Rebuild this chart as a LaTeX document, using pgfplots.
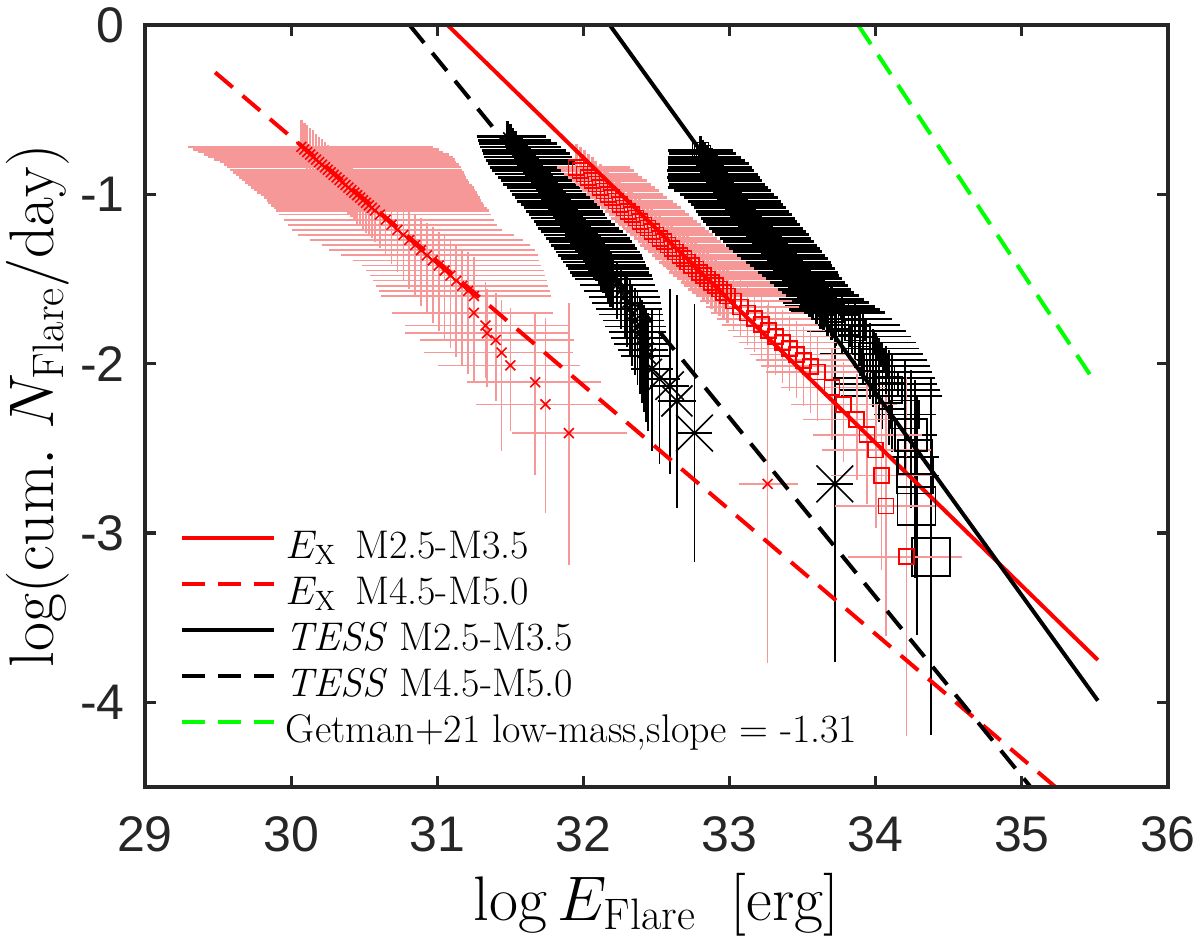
\RequirePackage{fix-cm}
\documentclass[border=0pt]{standalone}
\usepackage{fontspec}
\newfontfamily\tickfont{Liberation Sans}
\usepackage{pgfplots}
\usepackage{pgfplotstable}
\pgfplotsset{compat=1.18}
\definecolor{pinkbar}{RGB}{246,152,152}
\definecolor{axisgray}{RGB}{38,38,38}
\definecolor{mgreen}{RGB}{0,255,0}
\pgfplotsset{
  pinkerr/.style={/pgfplots/error bars/x dir=both, /pgfplots/error bars/x explicit,
    /pgfplots/error bars/y dir=both, /pgfplots/error bars/y explicit,
    /pgfplots/error bars/error bar style={line width=#1, pinkbar},
    /pgfplots/error bars/error mark options={line width=#1, pinkbar, mark size=5pt}},
  blackerr/.style={/pgfplots/error bars/x dir=both, /pgfplots/error bars/x explicit,
    /pgfplots/error bars/y dir=both, /pgfplots/error bars/y explicit,
    /pgfplots/error bars/error bar style={line width=#1, black},
    /pgfplots/error bars/error mark options={line width=#1, black, mark size=4.5pt}},
  sizedmarks/.style={scatter, point meta=y,
    scatter/use mapped color={draw=black, fill=black},
    visualization depends on={\thisrow{ms}\as\msize},
    scatter/@pre marker code/.append style={/tikz/mark size=\msize}},
}

% X-ray, M4.5-M5.0 (red x, pink bars)
\pgfplotstableread{
x y xm xp ym yp
30.070 -0.720 0.71 0.83 0.05 0.10
30.090 -0.735 0.69 0.85 0.05 0.10
30.110 -0.750 0.68 0.86 0.05 0.10
30.130 -0.765 0.66 0.88 0.06 0.10
30.150 -0.780 0.65 0.89 0.06 0.10
30.171 -0.795 0.63 0.88 0.06 0.09
30.191 -0.810 0.61 0.87 0.06 0.09
30.211 -0.825 0.60 0.87 0.07 0.09
30.231 -0.840 0.60 0.86 0.07 0.09
30.251 -0.855 0.60 0.85 0.07 0.09
30.271 -0.870 0.60 0.84 0.08 0.08
30.291 -0.885 0.60 0.83 0.08 0.08
30.311 -0.900 0.60 0.82 0.08 0.08
30.331 -0.915 0.60 0.81 0.09 0.08
30.351 -0.930 0.60 0.80 0.09 0.08
30.372 -0.945 0.60 0.80 0.09 0.08
30.392 -0.960 0.60 0.79 0.10 0.08
30.412 -0.975 0.60 0.78 0.10 0.08
30.432 -0.990 0.60 0.77 0.10 0.08
30.452 -1.005 0.59 0.76 0.11 0.08
30.472 -1.020 0.59 0.75 0.11 0.08
30.492 -1.035 0.59 0.74 0.11 0.08
30.512 -1.050 0.60 0.73 0.12 0.09
30.532 -1.065 0.60 0.72 0.12 0.09
30.552 -1.080 0.60 0.72 0.12 0.09
30.573 -1.095 0.61 0.71 0.13 0.09
30.607 -1.120 0.62 0.69 0.14 0.09
30.647 -1.150 0.63 0.67 0.15 0.10
30.687 -1.180 0.64 0.65 0.17 0.10
30.727 -1.210 0.65 0.65 0.19 0.11
30.768 -1.240 0.65 0.69 0.21 0.11
30.808 -1.270 0.61 0.71 0.23 0.12
30.848 -1.300 0.57 0.72 0.25 0.12
30.888 -1.330 0.56 0.71 0.27 0.13
30.929 -1.360 0.52 0.69 0.29 0.13
30.969 -1.390 0.48 0.66 0.31 0.14
31.010 -1.420 0.46 0.63 0.33 0.14
31.050 -1.450 0.47 0.61 0.35 0.15
31.090 -1.480 0.48 0.58 0.37 0.15
31.130 -1.510 0.50 0.55 0.39 0.16
31.171 -1.540 0.52 0.52 0.41 0.16
31.211 -1.570 0.54 0.49 0.43 0.17
31.251 -1.600 0.57 0.46 0.45 0.17
31.250 -1.700 0.49 0.47 0.22 0.18
31.330 -1.775 0.48 0.51 0.25 0.20
31.340 -1.820 0.49 0.50 0.26 0.20
31.400 -1.860 0.45 0.47 0.30 0.22
31.440 -1.935 0.46 0.42 0.52 0.25
31.500 -2.010 0.43 0.41 0.33 0.28
31.670 -2.110 0.40 0.38 0.49 0.35
31.740 -2.240 0.41 0.36 0.58 0.45
31.900 -2.410 0.32 0.33 0.72 0.71
33.260 -2.710 0.13 0.14 1.00 1.00
}\xrayB

% X-ray, M2.5-M3.5 (red squares, pink bars)
\pgfplotstableread{
x y xm xp ym yp
31.950 -0.84 0.06 0.30 0.04 0.08
31.977 -0.86 0.06 0.30 0.04 0.08
32.005 -0.88 0.07 0.30 0.04 0.08
32.032 -0.90 0.07 0.30 0.04 0.08
32.059 -0.92 0.07 0.31 0.05 0.08
32.086 -0.94 0.07 0.31 0.05 0.08
32.114 -0.96 0.07 0.31 0.05 0.08
32.141 -0.98 0.08 0.31 0.05 0.08
32.168 -1.00 0.08 0.31 0.05 0.08
32.196 -1.02 0.08 0.31 0.05 0.08
32.223 -1.04 0.08 0.32 0.06 0.08
32.250 -1.06 0.09 0.32 0.06 0.08
32.277 -1.08 0.09 0.32 0.06 0.09
32.305 -1.10 0.09 0.32 0.06 0.09
32.332 -1.12 0.09 0.32 0.06 0.09
32.359 -1.14 0.10 0.32 0.06 0.09
32.387 -1.16 0.10 0.32 0.07 0.09
32.414 -1.18 0.10 0.32 0.07 0.09
32.441 -1.20 0.10 0.32 0.07 0.09
32.468 -1.22 0.11 0.32 0.07 0.09
32.496 -1.24 0.11 0.32 0.07 0.09
32.523 -1.26 0.11 0.32 0.07 0.09
32.550 -1.28 0.11 0.32 0.08 0.09
32.578 -1.30 0.12 0.32 0.08 0.09
32.605 -1.32 0.12 0.32 0.08 0.09
32.632 -1.34 0.12 0.32 0.08 0.09
32.660 -1.36 0.12 0.32 0.08 0.10
32.687 -1.38 0.13 0.32 0.08 0.10
32.714 -1.40 0.13 0.33 0.09 0.10
32.741 -1.42 0.13 0.33 0.09 0.10
32.769 -1.44 0.13 0.33 0.09 0.10
32.796 -1.46 0.14 0.33 0.09 0.10
32.823 -1.48 0.14 0.33 0.09 0.10
32.851 -1.50 0.14 0.33 0.09 0.10
32.878 -1.52 0.14 0.33 0.10 0.10
32.905 -1.54 0.15 0.33 0.10 0.10
32.932 -1.56 0.15 0.33 0.10 0.10
32.960 -1.58 0.15 0.33 0.10 0.10
32.987 -1.60 0.15 0.33 0.10 0.10
33.028 -1.630 0.16 0.33 0.11 0.10
33.076 -1.665 0.17 0.33 0.12 0.11
33.124 -1.700 0.18 0.32 0.13 0.11
33.171 -1.735 0.19 0.32 0.14 0.11
33.219 -1.770 0.20 0.32 0.15 0.12
33.267 -1.805 0.21 0.32 0.16 0.12
33.315 -1.840 0.22 0.31 0.17 0.12
33.362 -1.875 0.23 0.31 0.18 0.13
33.410 -1.910 0.24 0.31 0.19 0.13
33.458 -1.945 0.25 0.31 0.20 0.14
33.506 -1.980 0.26 0.30 0.21 0.14
33.553 -2.015 0.27 0.30 0.22 0.15
33.601 -2.050 0.28 0.30 0.23 0.15
33.700 -2.140 0.28 0.30 0.25 0.17
33.780 -2.240 0.29 0.30 0.28 0.19
33.870 -2.330 0.30 0.30 0.30 0.21
33.940 -2.420 0.30 0.31 0.35 0.24
34.000 -2.510 0.30 0.31 0.40 0.30
34.040 -2.660 0.28 0.30 0.50 0.40
34.070 -2.840 0.28 0.30 0.71 0.60
34.210 -3.140 0.33 0.31 1.00 1.00
}\xrayA

% TESS, M4.5-M5.0 (black x)
\pgfplotstableread{
x y xm xp ym yp ms
31.480 -0.66 0.15 0.20 0.03 0.04 3
31.499 -0.68 0.16 0.22 0.03 0.04 3
31.518 -0.70 0.17 0.24 0.03 0.04 3
31.537 -0.72 0.18 0.25 0.03 0.04 3
31.556 -0.74 0.19 0.26 0.04 0.04 3
31.574 -0.76 0.20 0.27 0.04 0.05 3
31.593 -0.78 0.21 0.27 0.04 0.05 3
31.612 -0.80 0.22 0.27 0.04 0.05 3
31.631 -0.82 0.22 0.26 0.05 0.05 3
31.650 -0.84 0.23 0.25 0.05 0.05 3
31.667 -0.86 0.23 0.24 0.05 0.05 3
31.684 -0.88 0.23 0.23 0.05 0.05 3
31.700 -0.90 0.22 0.23 0.05 0.05 3
31.717 -0.92 0.22 0.22 0.06 0.05 3
31.734 -0.94 0.22 0.22 0.06 0.05 3
31.751 -0.96 0.21 0.21 0.06 0.06 3
31.768 -0.98 0.21 0.21 0.06 0.06 3
31.784 -1.00 0.21 0.21 0.06 0.06 3
31.801 -1.02 0.21 0.21 0.07 0.06 3
31.818 -1.04 0.21 0.20 0.07 0.06 3
31.835 -1.06 0.20 0.20 0.07 0.06 3
31.852 -1.08 0.20 0.20 0.07 0.06 3
31.869 -1.10 0.20 0.20 0.07 0.06 3
31.886 -1.12 0.20 0.20 0.08 0.06 3
31.903 -1.14 0.20 0.20 0.08 0.06 3
31.920 -1.16 0.20 0.21 0.08 0.06 3
31.937 -1.18 0.20 0.22 0.08 0.07 3
31.954 -1.20 0.20 0.23 0.08 0.07 3
31.971 -1.22 0.20 0.24 0.09 0.07 3
31.989 -1.24 0.20 0.25 0.09 0.07 3
32.006 -1.26 0.20 0.25 0.09 0.07 3
32.023 -1.28 0.20 0.25 0.09 0.07 3
32.040 -1.30 0.20 0.25 0.10 0.07 3
32.057 -1.32 0.20 0.25 0.10 0.07 3
32.074 -1.34 0.20 0.25 0.10 0.07 3
32.091 -1.36 0.20 0.25 0.10 0.08 3
32.108 -1.38 0.20 0.24 0.11 0.08 3
32.123 -1.40 0.20 0.24 0.11 0.08 3
32.139 -1.42 0.20 0.23 0.11 0.08 3
32.155 -1.44 0.20 0.23 0.12 0.08 3
32.170 -1.46 0.20 0.22 0.12 0.08 3
32.186 -1.48 0.20 0.22 0.13 0.08 3
32.202 -1.50 0.20 0.21 0.13 0.09 3
32.229 -1.535 0.19 0.20 0.15 0.09 3.5
32.257 -1.570 0.19 0.19 0.17 0.10 3.5
32.283 -1.605 0.18 0.18 0.19 0.10 3.5
32.300 -1.640 0.18 0.17 0.21 0.11 3.5
32.318 -1.675 0.17 0.16 0.23 0.12 4
32.335 -1.710 0.17 0.15 0.25 0.13 4
32.353 -1.745 0.16 0.14 0.27 0.14 4
32.370 -1.780 0.16 0.13 0.29 0.15 4.5
32.386 -1.815 0.15 0.12 0.31 0.16 4.5
32.400 -1.850 0.15 0.11 0.33 0.17 5
32.414 -1.885 0.14 0.10 0.35 0.18 5
32.428 -1.920 0.13 0.09 0.37 0.19 5.5
32.442 -1.955 0.12 0.08 0.39 0.20 5.5
32.470 -2.030 0.08 0.08 0.43 0.30 7
32.520 -2.090 0.08 0.08 0.45 0.36 8
32.590 -2.130 0.07 0.07 0.47 0.52 10
32.640 -2.220 0.07 0.07 0.58 0.57 11
32.760 -2.410 0.06 0.06 0.71 0.71 13
33.720 -2.710 0.06 0.06 1.00 1.00 13
}\tessB

% TESS, M2.5-M3.5 (black squares)
\pgfplotstableread{
x y xm xp ym yp ms
32.800 -0.74 0.16 0.16 0.03 0.03 4
32.814 -0.76 0.17 0.17 0.03 0.03 4
32.829 -0.78 0.19 0.19 0.03 0.03 4
32.843 -0.80 0.20 0.20 0.03 0.03 4
32.858 -0.82 0.22 0.21 0.03 0.03 4
32.872 -0.84 0.23 0.22 0.04 0.03 4
32.886 -0.86 0.25 0.22 0.04 0.03 4
32.901 -0.88 0.26 0.23 0.04 0.03 4
32.915 -0.90 0.28 0.23 0.04 0.04 4
32.930 -0.92 0.29 0.23 0.04 0.04 4
32.944 -0.94 0.30 0.24 0.04 0.04 4
32.958 -0.96 0.32 0.24 0.05 0.04 4
32.973 -0.98 0.29 0.25 0.05 0.04 4
32.990 -1.00 0.27 0.25 0.05 0.04 4
33.009 -1.02 0.26 0.26 0.05 0.04 4
33.028 -1.04 0.25 0.26 0.05 0.04 4
33.047 -1.06 0.25 0.26 0.05 0.04 4
33.066 -1.08 0.25 0.26 0.06 0.04 4
33.085 -1.10 0.25 0.26 0.06 0.05 4
33.104 -1.12 0.26 0.26 0.06 0.05 4
33.123 -1.14 0.26 0.26 0.06 0.05 4
33.142 -1.16 0.26 0.26 0.06 0.05 4
33.161 -1.18 0.26 0.26 0.06 0.05 4
33.181 -1.20 0.26 0.26 0.07 0.05 4
33.202 -1.22 0.26 0.26 0.07 0.05 4
33.223 -1.24 0.26 0.26 0.07 0.05 4
33.244 -1.26 0.25 0.25 0.07 0.05 4
33.265 -1.28 0.25 0.25 0.07 0.05 4
33.286 -1.30 0.25 0.25 0.07 0.06 4
33.307 -1.32 0.25 0.25 0.08 0.06 4
33.328 -1.34 0.24 0.24 0.08 0.06 4
33.349 -1.36 0.24 0.24 0.08 0.06 4
33.370 -1.38 0.24 0.24 0.08 0.06 4
33.390 -1.40 0.24 0.24 0.08 0.06 4
33.410 -1.42 0.23 0.23 0.09 0.06 4
33.430 -1.44 0.23 0.23 0.09 0.06 4
33.450 -1.46 0.23 0.23 0.09 0.06 4
33.470 -1.48 0.22 0.22 0.09 0.07 4
33.490 -1.50 0.22 0.22 0.10 0.07 4
33.510 -1.52 0.22 0.22 0.10 0.07 4
33.530 -1.54 0.21 0.22 0.10 0.07 4
33.550 -1.56 0.21 0.22 0.11 0.07 4
33.570 -1.58 0.21 0.22 0.11 0.07 4
33.593 -1.60 0.21 0.23 0.11 0.08 4.5
33.619 -1.62 0.22 0.24 0.12 0.08 4.5
33.645 -1.64 0.22 0.25 0.12 0.08 4.5
33.671 -1.66 0.23 0.26 0.13 0.08 4.5
33.697 -1.68 0.23 0.27 0.13 0.09 4.5
33.723 -1.70 0.24 0.28 0.14 0.09 4.5
33.769 -1.735 0.25 0.28 0.15 0.10 5
33.814 -1.770 0.26 0.29 0.16 0.10 5
33.858 -1.805 0.27 0.29 0.17 0.11 5
33.893 -1.840 0.28 0.29 0.18 0.11 5
33.915 -1.875 0.28 0.30 0.19 0.12 5.5
33.937 -1.910 0.28 0.30 0.20 0.12 5.5
33.959 -1.945 0.28 0.30 0.21 0.13 5.5
33.981 -1.980 0.27 0.31 0.22 0.13 5.5
34.003 -2.015 0.27 0.31 0.23 0.14 6
34.025 -2.050 0.27 0.30 0.24 0.15 6
34.047 -2.085 0.28 0.30 0.25 0.16 6
34.069 -2.120 0.28 0.29 0.26 0.17 6
34.091 -2.155 0.28 0.29 0.27 0.18 6.5
34.114 -2.190 0.29 0.28 0.28 0.19 6.5
34.200 -2.300 0.15 0.15 0.30 0.27 7
34.240 -2.420 0.12 0.12 0.38 0.33 8
34.270 -2.550 0.10 0.10 0.45 0.40 8.5
34.270 -2.660 0.10 0.10 0.55 0.50 9
34.280 -2.840 0.08 0.08 0.71 0.60 9.5
34.380 -3.140 0.06 0.06 1.00 1.00 9.5
}\tessA

\begin{document}
\begin{tikzpicture}
\begin{axis}[
  scale only axis, width=511.5pt, height=381pt,
  xmin=29, xmax=36, ymin=-4.5, ymax=0,
  xtick={29,30,31,32,33,34,35,36},
  xticklabels={29,30,31,32,33,34,35,36},
  ytick={-4,-3,-2,-1,0},
  yticklabels={-4,-3,-2,-1,0},
  tick align=inside, major tick length=5.5pt,
  tick style={line width=1.6pt, draw=axisgray},
  axis line style={line width=1.8pt, draw=axisgray},
  axis on top,
  ticklabel style={font=\tickfont\fontsize{25}{30}\selectfont, text=axisgray},
  xticklabel style={anchor=base, yshift=-32pt, inner sep=0pt},
  yticklabel style={anchor=east, xshift=-10pt, inner sep=0pt},
  every axis x label/.style={at={(axis description cs:0.5,-0.17454)}, anchor=base},
  every axis y label/.style={at={(axis description cs:-0.0890,0.5)}, rotate=90, anchor=base},
  label style={font=\fontsize{31.5}{36}\selectfont},
  xlabel={$\log E_{\mathrm{Flare}}\;\;[\mathrm{erg}]$},
  ylabel={$\log(\mathrm{cum.}~N_{\mathrm{Flare}}/\mathrm{day})$},
  legend style={draw=none, fill=none, at={(axis description cs:0.0342,0.3386)}, anchor=north west,
    inner sep=0pt, outer sep=0pt, row sep=0pt, column sep=5pt,
    font=\fontsize{20}{24}\selectfont,
    nodes={inner sep=0pt, text height=15pt, text depth=8pt}},
  legend cell align=left,
  legend image code/.code={\path (0pt,0pt); \draw[#1] (0pt,7pt) -- (46pt,7pt);},
]
% TESS M4.5-M5.0 (black x)
\addplot[forget plot, sizedmarks, only marks, mark=x, mark options={line width=0.8pt},
  skip coords between index={43}{200}, blackerr=1.4pt]
  table[x=x, y=y, x error minus=xm, x error plus=xp, y error minus=ym, y error plus=yp] {\tessB};
\addplot[forget plot, sizedmarks, only marks, mark=x, mark options={line width=0.8pt},
  skip coords between index={0}{43}, blackerr=0.9pt]
  table[x=x, y=y, x error minus=xm, x error plus=xp, y error minus=ym, y error plus=yp] {\tessB};
% TESS M2.5-M3.5 (black squares)
\addplot[forget plot, sizedmarks, only marks, mark=square, mark options={line width=0.8pt},
  skip coords between index={49}{200}, blackerr=1.5pt]
  table[x=x, y=y, x error minus=xm, x error plus=xp, y error minus=ym, y error plus=yp] {\tessA};
\addplot[forget plot, sizedmarks, only marks, mark=square, mark options={line width=0.8pt},
  skip coords between index={0}{49}, blackerr=0.9pt]
  table[x=x, y=y, x error minus=xm, x error plus=xp, y error minus=ym, y error plus=yp] {\tessA};
% X-ray M4.5-M5.0 (red x, pink bars)
\addplot[forget plot, only marks, mark=x, mark size=3.5pt, mark options={red, line width=0.8pt},
  skip coords between index={26}{200}, pinkerr=1.25pt]
  table[x=x, y=y, x error minus=xm, x error plus=xp, y error minus=ym, y error plus=yp] {\xrayB};
\addplot[forget plot, only marks, mark=x, mark size=3.5pt, mark options={red, line width=0.8pt},
  skip coords between index={0}{26}, pinkerr=0.8pt]
  table[x=x, y=y, x error minus=xm, x error plus=xp, y error minus=ym, y error plus=yp] {\xrayB};
% X-ray M2.5-M3.5 (red squares, pink bars)
\addplot[forget plot, only marks, mark=square, mark size=3.75pt, mark options={red, line width=0.8pt},
  skip coords between index={39}{200}, pinkerr=1.5pt]
  table[x=x, y=y, x error minus=xm, x error plus=xp, y error minus=ym, y error plus=yp] {\xrayA};
\addplot[forget plot, only marks, mark=square, mark size=3.75pt, mark options={red, line width=0.8pt},
  skip coords between index={0}{39}, pinkerr=0.8pt]
  table[x=x, y=y, x error minus=xm, x error plus=xp, y error minus=ym, y error plus=yp] {\xrayA};
% fits
\addplot[red, line width=2pt] coordinates {(31.07,0) (35.52,-3.75)};
\addlegendentry{$E_{\mathrm{X}}$\ \,M2.5-M3.5}
\addplot[red, line width=2pt, dash pattern=on 11.5pt off 6.5pt] coordinates {(29.48,-0.28) (35.23,-4.5)};
\addlegendentry{$E_{\mathrm{X}}$\ \,M4.5-M5.0}
\addplot[black, line width=2pt] coordinates {(32.18,0) (35.52,-3.99)};
\addlegendentry{\textit{TESS} M2.5-M3.5}
\addplot[black, line width=2pt, dash pattern=on 11.5pt off 6.5pt] coordinates {(30.81,0) (35.06,-4.5)};
\addlegendentry{\textit{TESS} M4.5-M5.0}
\addplot[mgreen, line width=2pt, dash pattern=on 11.5pt off 6.5pt] coordinates {(33.88,0) (35.47,-2.07)};
\addlegendentry{Getman+21 low-mass,slope = -1.31}
\end{axis}
\pgfresetboundingbox
\path[use as bounding box] ([shift={(-72.5pt,-77.5pt)}]current axis.south west) rectangle ([shift={(16pt,12.5pt)}]current axis.north east);
\end{tikzpicture}
\end{document}
